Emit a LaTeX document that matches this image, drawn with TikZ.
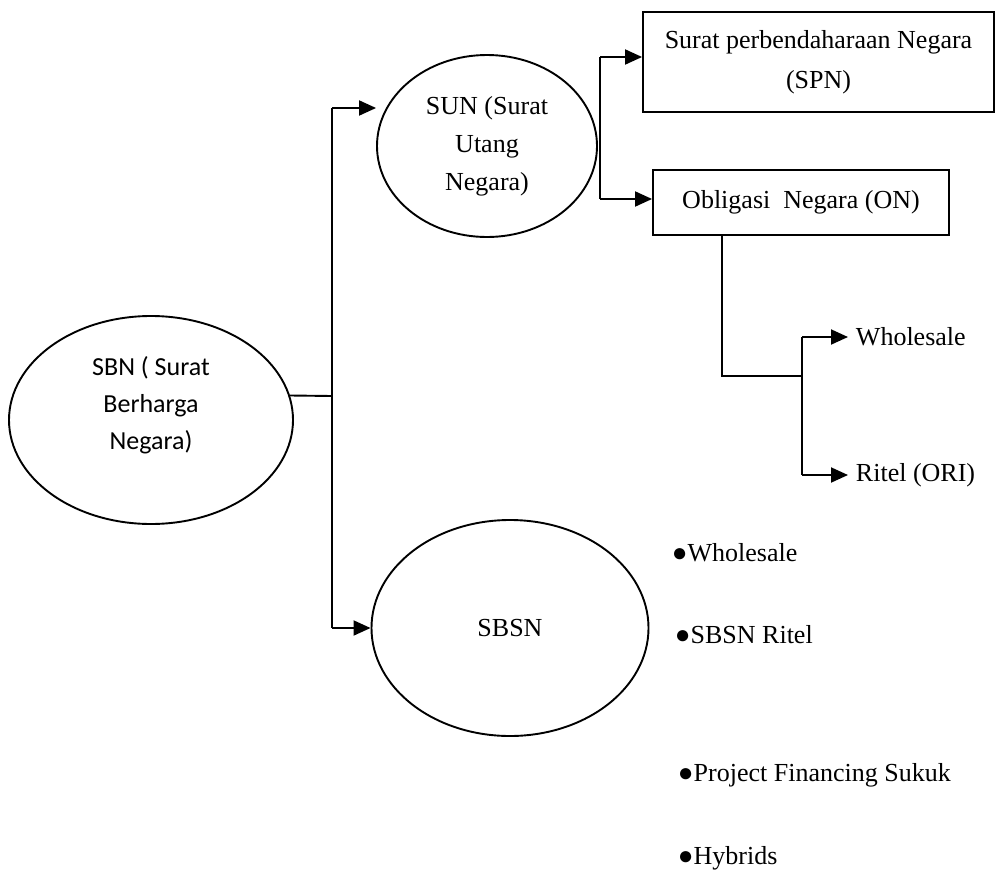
\documentclass[tikz,border=0pt]{standalone}
\usepackage{fontspec}
\setmainfont{Liberation Serif}
\newfontfamily\calibri{Carlito}
\usetikzlibrary{arrows.meta,shapes.geometric}

\begin{document}
\begin{tikzpicture}[x=1pt, y=-1pt, line width=1.9pt,
    >={Triangle[length=17pt,width=15pt]},
    font=\fontsize{26}{38}\selectfont,
    oval/.style={draw, ellipse, inner sep=0pt, align=center},
    box/.style={draw, rectangle, inner sep=0pt, align=center},
    item/.style={anchor=west, inner sep=0pt}]
  \useasboundingbox (0,0) rectangle (996,870);

  % the three ovals
  \node[oval, minimum width=284, minimum height=208] (sbn) at (151,420) {};
  \node[align=center, font=\calibri\fontsize{26}{37}\selectfont] (sbntext) at (151,405)
        {SBN ( Surat\\Berharga\\Negara)};
  \node[oval, minimum width=220, minimum height=182] (sun) at (487,146)
        {SUN (Surat\\Utang\\Negara)};
  \node[oval, minimum width=277, minimum height=216] (sbsn) at (510,628) {SBSN};

  % the two boxes
  \node[box, minimum width=351, minimum height=100,
        font=\fontsize{26}{40}\selectfont] (spn) at (818.5,62)
        {Surat perbendaharaan Negara\\(SPN)};
  \node[box, minimum width=296, minimum height=65] (on) at (801,202.5)
        {Obligasi\ \ Negara (ON)};

  % leaves
  \node[item] (whl) at (855,337) {Wholesale};
  \node[item] (ori) at (855,475) {Ritel (ORI)};
  \node[item] (b1) at (671,553) {●Wholesale};
  \node[item] (b2) at (674,635) {●SBSN Ritel};
  \node[item] (b3) at (677,775) {●Project Financing Sukuk};
  \node[item] (b4) at (677,858) {●Hybrids};

  % SBN branches
  \coordinate (j) at (332,396);
  \coordinate (jt) at (332,108);
  \coordinate (jb) at (332,628);
  \draw (sbn.10) -- (j);
  \draw (jt) -- (jb);
  \draw[->] (jt) -- (jt -| sun.west);
  \draw[->] (jb) -- (sbsn.west);

  % SUN branches
  \coordinate (s1) at (600,57);
  \coordinate (s2) at (600,199);
  \draw (s1) -- (s2);
  \draw[->] (s1) -- (s1 -| spn.west);
  \draw[->] (s2) -- (s2 -| on.west);

  % ON branches
  \coordinate (o) at (722,376);
  \coordinate (w) at (802,337);
  \coordinate (r) at (802,475);
  \draw (o |- on.south) -- (o) -- (o -| w);
  \draw (w) -- (r);
  \draw[->] (w) -- ([xshift=-7pt]whl.west);
  \draw[->] (r) -- ([xshift=-7pt]ori.west);
\end{tikzpicture}
\end{document}
